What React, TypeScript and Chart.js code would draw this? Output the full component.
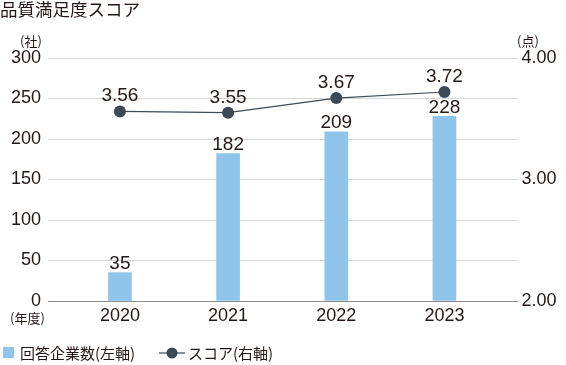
import React, { useEffect, useRef } from "react";
import { Chart, registerables } from "chart.js";

Chart.register(...registerables);

const years = ["2020", "2021", "2022", "2023"];
const companies = [35, 182, 209, 228];
const scores = [3.56, 3.55, 3.67, 3.72];
const scoreLabels = ["3.56", "3.55", "3.67", "3.72"];
const leftTicks = [0, 50, 100, 150, 200, 250, 300];
const rightTicks = [2, 3, 4];

const BAR_COLOR = "#8fc5ea";
const LINE_COLOR = "#3d4a55";
const TEXT = "#231815";
const NUM_FONT = "'Liberation Sans', Arial, sans-serif";
const JP_FONT = "'Noto Sans CJK JP', sans-serif";

const extras = {
  id: "extras",
  afterDatasetsDraw(chart: any) {
    const ctx = chart.ctx;
    ctx.save();
    ctx.fillStyle = TEXT;
    ctx.textAlign = "center";
    ctx.textBaseline = "alphabetic";
    ctx.font = `19px ${NUM_FONT}`;
    const barMeta = chart.getDatasetMeta(0);
    barMeta.data.forEach((el: any, i: number) => {
      ctx.fillText(String(companies[i]), el.x, el.y - 3.5);
    });
    const lineMeta = chart.getDatasetMeta(1);
    lineMeta.data.forEach((el: any, i: number) => {
      ctx.fillText(scoreLabels[i], el.x, el.y - 10);
    });
    ctx.restore();
  },
  afterDraw(chart: any) {
    const ctx = chart.ctx;
    ctx.save();
    ctx.fillStyle = TEXT;
    ctx.textBaseline = "middle";
    ctx.textAlign = "left";
    ctx.font = `17.5px ${JP_FONT}`;
    ctx.fillText("品質満足度スコア", 0, 9);
    ctx.font = `13px ${JP_FONT}`;
    ctx.fillText("(社)", 20, 41.5);
    ctx.fillText("(点)", 517, 41.5);
    ctx.fillText("(年度)", 10, 318.5);
    // legend
    ctx.fillStyle = BAR_COLOR;
    ctx.fillRect(3, 347, 11, 11);
    ctx.fillStyle = TEXT;
    ctx.font = `15px ${JP_FONT}`;
    ctx.fillText("回答企業数(左軸)", 20, 353);
    ctx.strokeStyle = LINE_COLOR;
    ctx.lineWidth = 1.2;
    ctx.beginPath();
    ctx.moveTo(159, 353);
    ctx.lineTo(185, 353);
    ctx.stroke();
    ctx.fillStyle = LINE_COLOR;
    ctx.beginPath();
    ctx.arc(172, 353, 5.5, 0, Math.PI * 2);
    ctx.fill();
    ctx.fillStyle = TEXT;
    ctx.fillText("スコア(右軸)", 188, 353);
    ctx.restore();
  },
};

export default function App() {
  const ref = useRef<HTMLCanvasElement | null>(null);
  useEffect(() => {
    document.body.style.margin = "0";
    const canvas = ref.current;
    if (!canvas) return;
    const chart = new Chart(canvas, {
      type: "bar",
      data: {
        datasets: [
          {
            type: "bar",
            label: "回答企業数(左軸)",
            data: companies.map((v, i) => ({ x: i, y: v })),
            backgroundColor: BAR_COLOR,
            barThickness: 23,
            yAxisID: "y",
            order: 2,
          } as any,
          {
            type: "line",
            label: "スコア(右軸)",
            data: scores.map((v, i) => ({ x: i, y: v })),
            borderColor: LINE_COLOR,
            backgroundColor: LINE_COLOR,
            borderWidth: 1.2,
            pointRadius: 6,
            pointBackgroundColor: LINE_COLOR,
            pointBorderWidth: 0,
            yAxisID: "y1",
            order: 1,
          } as any,
        ],
      },
      options: {
        responsive: false,
        animation: false,
        devicePixelRatio: 1,
        layout: { padding: { top: 58, left: 0, right: 0, bottom: 0 } },
        plugins: {
          legend: { display: false },
          tooltip: { enabled: false },
          title: { display: false },
        },
        scales: {
          x: {
            type: "linear",
            offset: false,
            min: -0.665,
            max: 3.68,
            afterBuildTicks: (scale: any) => {
              scale.ticks = years.map((_, i) => ({ value: i }));
            },
            afterFit: (scale: any) => {
              scale.height = 64;
            },
            grid: { display: false, drawTicks: false, offset: false },
            border: { display: false },
            ticks: {
              padding: 4.5,
              color: TEXT,
              font: { size: 18, family: NUM_FONT },
              autoSkip: false,
              maxRotation: 0,
              callback: (v: any) => years[Number(v)] ?? "",
            },
          },
          y: {
            type: "linear",
            position: "left",
            min: 0,
            max: 300,
            afterBuildTicks: (scale: any) => {
              scale.ticks = leftTicks.map((v) => ({ value: v }));
            },
            afterFit: (scale: any) => {
              scale.width = 48;
            },
            grid: {
              drawTicks: false,
              color: (c: any) => (c.tick && c.tick.value === 0 ? "#8c8c8c" : "#d7d7d7"),
              lineWidth: 1,
            },
            border: { display: false },
            ticks: {
              padding: 7,
              color: TEXT,
              font: { size: 18, family: NUM_FONT },
              callback: (v: any) => String(v),
            },
          },
          y1: {
            type: "linear",
            position: "right",
            min: 2,
            max: 4,
            afterBuildTicks: (scale: any) => {
              scale.ticks = rightTicks.map((v) => ({ value: v }));
            },
            afterFit: (scale: any) => {
              scale.width = 48;
            },
            grid: { display: false, drawTicks: false },
            border: { display: false },
            ticks: {
              padding: 3.5,
              color: TEXT,
              font: { size: 18, family: NUM_FONT },
              callback: (v: any) => Number(v).toFixed(2),
            },
          },
        },
      } as any,
      plugins: [extras],
    });
    return () => chart.destroy();
  }, []);
  return <canvas ref={ref} width={566} height={365} style={{ display: "block" }} />;
}
